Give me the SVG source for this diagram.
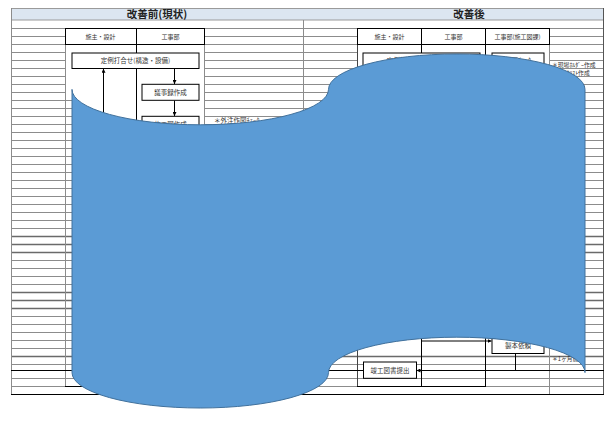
<svg xmlns="http://www.w3.org/2000/svg" width="611" height="426" viewBox="0 0 611 426">
<defs>
<style>
.g{stroke:#8c8c8c;stroke-width:1;fill:none}
.gd{stroke:#6a6a6a;stroke-width:1.6;fill:none}
.k{stroke:#000;stroke-width:1;fill:none}
.box{fill:#fff;stroke:#000;stroke-width:1}
.t{font-family:"Noto Sans CJK JP","Noto Sans",sans-serif;fill:#333;font-size:6.5px}
.n{font-size:5.8px}
.c{text-anchor:middle}
.ttl{font-family:"Noto Sans CJK JP","Noto Sans",sans-serif;fill:#222;font-size:10.5px;text-anchor:middle;font-weight:bold}
</style>
<marker id="ah" viewBox="0 0 6 6" refX="6" refY="3" markerWidth="4" markerHeight="4" markerUnits="userSpaceOnUse" orient="auto">
<path d="M0,0L6,3L0,6z" fill="#000"/>
</marker>
</defs>
<rect width="611" height="426" fill="#fff"/>
<g id="grid">
<rect x="11.5" y="8.5" width="592" height="11.5" fill="#DCE6F1" stroke="#9a9a9a"/>
<path class="g" d="M11 28.5H604M11 36.5H604M11 44.5H604M11 52.5H604M11 60.5H604M11 68.5H604M11 76.5H604M11 84.5H604M11 92.5H604M11 100.5H604M11 108.5H604M11 116.5H604M11 124.5H604M11 132.5H604M11 140.5H604M11 148.5H604M11 156.5H604M11 164.5H604M11 172.5H604M11 180.5H604M11 188.5H604M11 196.5H604M11 204.5H604M11 212.5H604M11 220.5H604M11 228.5H604M11 260.5H604M11 268.5H604M11 276.5H604M11 284.5H604M11 316.5H604M11 324.5H604M11 332.5H604M11 340.5H604M11 348.5H604M11 364.5H604M11 378.5H604M11 386.5H604"/>
<path class="gd" d="M11 236.5H604M11 244.5H604M11 252.5H604M11 292.5H604M11 300.5H604M11 308.5H604M11 356.5H604"/>
<path class="g" d="M11.5 8V394M65.5 28V386M204.5 28V386M303.5 20V394M549.5 28V394"/>
<rect x="66" y="45" width="138" height="55" fill="#fff"/>
<rect x="72" y="45" width="132" height="95" fill="#fff"/>
<rect x="358" y="45" width="191" height="305" fill="#fff"/>
<path d="M136.5 28V386" stroke="#000" stroke-width="1"/>
<path d="M357.5 28V386" stroke="#444" stroke-width="1"/>
<path d="M421.5 28V386M485.5 28V386" stroke="#000" stroke-width="1"/>
<path d="M603.5 8V394" stroke="#555" stroke-width="1"/>
<path d="M11 370.5H604M11 394.5H604" stroke="#000" stroke-width="1.2"/>
<path d="M65 386.5H205M357 386.5H486" stroke="#000" stroke-width="1"/>
</g>
<g id="titles">
<text class="ttl" x="157" y="18">改善前(現状)</text>
<text class="ttl" x="469" y="18">改善後</text>
</g>
<g id="header-left">
<rect class="box" x="65.5" y="28.5" width="139" height="16"/>
<path class="k" d="M136.5 28.5V44.5"/>
<text class="t c" x="100.5" y="38.8" style="font-size:6px">施主・設計</text>
<text class="t c" x="170.5" y="38.8" style="font-size:6px">工事部</text>
</g>
<g id="header-right">
<rect class="box" x="357.5" y="28.5" width="192" height="16"/>
<path class="k" d="M421.5 28.5V44.5M485.5 28.5V44.5"/>
<text class="t c" x="389.5" y="38.8" style="font-size:6px">施主・設計</text>
<text class="t c" x="453.5" y="38.8" style="font-size:6px">工事部</text>
<text class="t c" x="517.5" y="38.8" style="font-size:6px">工事部(施工図課)</text>
</g>
<g id="connectors">
<path class="k" d="M174.5 68.5V84" marker-end="url(#ah)"/>
<path class="k" d="M174.5 100.5V116" marker-end="url(#ah)"/>
<path class="k" d="M103.5 130V68.8" marker-end="url(#ah)"/>
<path class="k" d="M421.5 330V341H491.5" marker-end="url(#ah)"/>
<path class="k" d="M515.5 353.5V370.5H416.5" stroke-width="1.4" marker-end="url(#ah)"/>
</g>
<g id="node-teirei-left">
<rect class="box" x="72" y="53" width="127" height="15.5"/>
<text class="t c" x="135.5" y="63.2">定例打合せ(構造・設備)</text>
</g>
<g id="node-gijiroku">
<rect class="box" x="142" y="84.3" width="57" height="16"/>
<text class="t c" x="170.5" y="94.7">議事録作成</text>
</g>
<g id="node-sekouzu">
<rect class="box" x="142" y="116.3" width="57" height="16"/>
<text class="t c" x="170.5" y="126.5">施工図作成</text>
</g>
<g id="note-gaichu">
<text class="t" x="214" y="123">＊外注作図ﾁｪｯｸ</text>
</g>
<g id="node-teirei-right">
<rect class="box" x="363" y="53" width="117" height="15.5"/>
<text class="t c" x="421.5" y="63.2">定例打合せ(構造・設備)</text>
</g>
<g id="node-right2">
<rect class="box" x="492" y="53" width="52" height="15.5"/>
<text class="t c" x="518" y="63.2">図面ﾁｪｯｸ</text>
</g>
<g id="notes-right">
<text class="t n" x="552" y="66.5">＊現場ﾎﾙﾀﾞｰ作成</text>
<text class="t n" x="552" y="75">＊ﾁｪｯｸﾘｽﾄ作成</text>
<text class="t n" x="552" y="360.8">＊1ヶ月前</text>
</g>
<g id="node-seihon">
<rect class="box" x="492" y="338.5" width="52" height="15"/>
<text class="t c" x="518" y="348.3">製本依頼</text>
</g>
<g id="node-shunko">
<rect class="box" x="363.5" y="362" width="53" height="16.3"/>
<text class="t c" x="390" y="372.5">竣工図書提出</text>
</g>
<g id="blob">
<path d="M72 89.4A128.25 35.4 0 0 0 328.5 89.4A128.25 35.4 0 0 1 585 89.4L585 372.6A128.25 35.4 0 0 0 328.5 372.6A128.25 35.4 0 0 1 72 372.6Z" fill="#5B9BD5" stroke="#41719C" stroke-width="1"/>
</g>
</svg>
